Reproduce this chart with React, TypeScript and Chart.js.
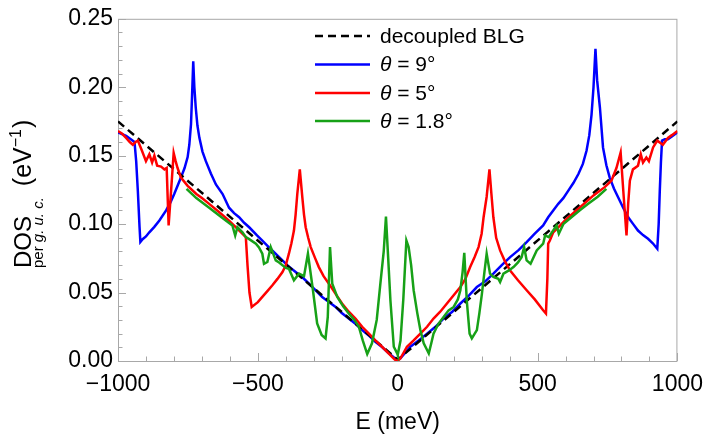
import React, { useEffect, useRef } from "react";
import { Chart, registerables } from "chart.js";

Chart.register(...registerables);

// ---------- data ----------
const energyBLG = [-1000, 0, 1000];
const dosBLG = [0.175, 0.001, 0.175];

const energy9 = [
  -1000, -971, -941, -935, -929, -923, -920, -912, -900, -888, -870, -852, -828, -812, -799, -787, -775, -762,
  -751, -745, -739, -735, -731, -727, -722, -716, -709, -698, -686, -668, -650, -626, -603, -585, -567, -549,
  -531, -503, -484, -455, -424, -395, -365, -340, -317, -295, -270, -245, -222, -200, -175, -150, -127, -100,
  -80, -55, -32, -10, 0, 10, 45, 75, 105, 135, 164, 195, 224, 255, 283, 312, 342, 372, 402, 432, 461, 490, 520,
  538, 556, 574, 592, 610, 628, 646, 662, 675, 685, 693, 700, 707, 713, 723, 734, 746, 758, 773, 788, 806, 824,
  842, 859, 877, 895, 912, 928, 933, 937, 941, 945, 955, 966, 980, 1000,
];
const dos9 = [
  0.167, 0.1645, 0.16, 0.146, 0.124, 0.098, 0.087, 0.089, 0.091, 0.094, 0.098, 0.1026, 0.11, 0.116, 0.122, 0.128,
  0.134, 0.141, 0.149, 0.158, 0.173, 0.195, 0.219, 0.2, 0.185, 0.172, 0.163, 0.153, 0.146, 0.137, 0.129, 0.122,
  0.112, 0.108, 0.105, 0.101, 0.0977, 0.0917, 0.088, 0.082, 0.0759, 0.07, 0.065, 0.061, 0.0565, 0.052, 0.0468,
  0.043, 0.0395, 0.035, 0.031, 0.027, 0.0226, 0.018, 0.014, 0.01, 0.0056, 0.002, 0.001, 0.002, 0.0104, 0.015,
  0.02, 0.025, 0.031, 0.036, 0.042, 0.048, 0.054, 0.058, 0.0638, 0.07, 0.0759, 0.081, 0.0868, 0.093, 0.099,
  0.105, 0.11, 0.1148, 0.119, 0.1245, 0.13, 0.1366, 0.144, 0.1536, 0.165, 0.18, 0.2, 0.228, 0.205, 0.185, 0.156,
  0.143, 0.134, 0.126, 0.1196, 0.112, 0.105, 0.1, 0.0953, 0.092, 0.0893, 0.086, 0.082, 0.1, 0.1245, 0.145, 0.161,
  0.162, 0.162, 0.164, 0.167,
];

const energy5 = [
  -1000, -985, -971, -958, -947, -937, -929, -915, -900, -888, -878, -870, -860, -846, -834, -826, -819, -810,
  -801, -794, -787, -775, -751, -720, -700, -674, -640, -603, -570, -543, -537, -530, -522, -500, -484, -466,
  -448, -430, -412, -400, -389, -380, -371, -365, -359, -350, -341, -335, -329, -320, -311, -295, -282, -265,
  -246, -222, -199, -175, -151, -127, -103, -80, -56, -30, -10, 0, 10, 33, 57, 81, 105, 128, 152, 176, 200, 224,
  242, 259, 275, 289, 300, 307, 318, 328, 335, 342, 352, 366, 383, 402, 430, 461, 490, 520, 530, 535, 538, 544,
  556, 574, 600, 650, 700, 740, 764, 782, 797, 808, 818, 824, 830, 841, 859, 869, 877, 889, 898, 913, 928, 948,
  966, 980, 1000,
];
const dos5 = [
  0.168, 0.166, 0.163, 0.16, 0.158, 0.16, 0.161, 0.154, 0.146, 0.151, 0.145, 0.15, 0.1427, 0.142, 0.14, 0.141,
  0.099, 0.125, 0.152, 0.146, 0.141, 0.134, 0.128, 0.122, 0.119, 0.1148, 0.109, 0.1026, 0.096, 0.0905, 0.07,
  0.05, 0.0395, 0.043, 0.0468, 0.051, 0.0553, 0.06, 0.065, 0.07, 0.0784, 0.086, 0.0953, 0.107, 0.122, 0.14,
  0.1196, 0.107, 0.0977, 0.09, 0.0832, 0.075, 0.0686, 0.062, 0.0565, 0.049, 0.042, 0.036, 0.031, 0.025, 0.02,
  0.015, 0.0104, 0.005, 0.001, 0.0, 0.002, 0.0104, 0.015, 0.02, 0.025, 0.031, 0.036, 0.042, 0.048, 0.054, 0.06,
  0.0686, 0.076, 0.0832, 0.093, 0.105, 0.12, 0.14, 0.122, 0.105, 0.09, 0.0808, 0.073, 0.066, 0.059, 0.0517,
  0.045, 0.0371, 0.0347, 0.06, 0.0857, 0.088, 0.094, 0.0977, 0.103, 0.112, 0.121, 0.127, 0.1317, 0.141, 0.1523,
  0.12, 0.0917, 0.115, 0.1317, 0.14, 0.1427, 0.151, 0.145, 0.1487, 0.146, 0.156, 0.161, 0.158, 0.163, 0.165,
  0.168,
];

const energy18 = [
  -755, -720, -674, -630, -591, -581, -573, -555, -543, -531, -507, -496, -484, -478, -466, -454, -436, -424,
  -400, -389, -371, -353, -335, -321, -303, -288, -272, -258, -250, -242, -234, -216, -195, -175, -155, -139,
  -125, -109, -92, -75, -62, -50, -42, -34, -26, -14, -2, 0, 10, 20, 31, 39, 48, 57, 70, 81, 93, 105, 111, 120,
  128, 145, 164, 182, 200, 215, 224, 232, 238, 247, 257, 265, 283, 292, 301, 310, 318, 330, 342, 360, 366, 378,
  396, 414, 430, 443, 452, 461, 475, 497, 520, 527, 540, 556, 568, 576, 592, 621, 650, 681, 715, 746,
];
const dos18 = [
  0.1257, 0.119, 0.112, 0.105, 0.099, 0.0917, 0.0977, 0.094, 0.0905, 0.089, 0.0857, 0.083, 0.0784, 0.071,
  0.0723, 0.0832, 0.0735, 0.072, 0.068, 0.0674, 0.059, 0.0638, 0.062, 0.0784, 0.0517, 0.0274, 0.019, 0.0165,
  0.0322, 0.0832, 0.0565, 0.0468, 0.04, 0.0347, 0.03, 0.025, 0.015, 0.0051, 0.0129, 0.03, 0.0565, 0.08, 0.1055,
  0.075, 0.044, 0.0104, 0.0056, 0.0044, 0.015, 0.045, 0.088, 0.0832, 0.07, 0.0517, 0.035, 0.0226, 0.013, 0.008,
  0.0056, 0.013, 0.02, 0.027, 0.0322, 0.037, 0.0395, 0.045, 0.0517, 0.065, 0.079, 0.044, 0.02, 0.0165, 0.0226,
  0.035, 0.049, 0.065, 0.0784, 0.0638, 0.0614, 0.06, 0.0577, 0.0638, 0.066, 0.0686, 0.072, 0.0759, 0.0832,
  0.0735, 0.071, 0.0808, 0.0857, 0.0917, 0.0905, 0.0953, 0.099, 0.093, 0.1, 0.105, 0.11, 0.1148, 0.12, 0.1257,
];

const seriesLabels = ["decoupled BLG", "θ = 9°", "θ = 5°", "θ = 1.8°"];
const xTickValues = [-1000, -500, 0, 500, 1000];
const yTickValues = [0, 0.05, 0.1, 0.15, 0.2, 0.25];
const xMinorStep = 100;
const yMinorStep = 0.01;
const xTitle = "E (meV)";
const yTitleMain = "DOS";
const yTitleSubPlain = "per ";
const yTitleSubItalic = "g. u. c.";
const yTitleUnit = "(eV";
const yTitleExp = "−1";

const FONT = "'Liberation Sans', Arial, Helvetica, sans-serif";

const toPoints = (xs: number[], ys: number[]) => xs.map((x, i) => ({ x, y: ys[i] }));
const fmtX = (v: number) => (v < 0 ? "−" + Math.abs(v) : String(v));

const framePlugin = {
  id: "frameTicks",
  beforeDatasetsDraw(chart: any) {
    const { ctx, chartArea: a, scales } = chart;
    const xs = scales.x;
    const ys = scales.y;
    ctx.save();
    ctx.strokeStyle = "#a8a8a8";
    ctx.lineWidth = 1;
    ctx.strokeRect(a.left + 0.5, a.top + 0.5, a.right - a.left - 1, a.bottom - a.top);
    ctx.beginPath();
    const nx = Math.round((xs.max - xs.min) / xMinorStep);
    for (let i = 0; i <= nx; i++) {
      const v = xs.min + i * xMinorStep;
      const px = Math.round(xs.getPixelForValue(v)) + 0.5;
      const major = xTickValues.some((t) => Math.abs(t - v) < 1e-6);
      const len = major ? 8 : 4.5;
      ctx.moveTo(px, a.bottom);
      ctx.lineTo(px, a.bottom - len);
    }
    const ny = Math.round((ys.max - ys.min) / yMinorStep);
    for (let i = 0; i <= ny; i++) {
      const v = ys.min + i * yMinorStep;
      const py = Math.round(ys.getPixelForValue(v)) + 0.5;
      const major = yTickValues.some((t) => Math.abs(t - v) < 1e-6);
      const len = major ? 8 : 4.5;
      ctx.moveTo(a.left, py);
      ctx.lineTo(a.left + len, py);
    }
    ctx.stroke();
    ctx.restore();
  },
  afterDraw(chart: any) {
    const { ctx } = chart;
    // y-axis title (rotated rich text)
    ctx.save();
    ctx.translate(31, 268);
    ctx.rotate(-Math.PI / 2);
    ctx.fillStyle = "#000";
    ctx.textBaseline = "alphabetic";
    ctx.textAlign = "left";
    ctx.font = `24px ${FONT}`;
    ctx.fillText(yTitleMain, 0, 0);
    // subscript
    ctx.font = `15px ${FONT}`;
    ctx.fillText(yTitleSubPlain, 0, 12);
    const wp = ctx.measureText(yTitleSubPlain).width;
    ctx.font = `italic 15px ${FONT}`;
    ctx.fillText(yTitleSubItalic, wp, 12);
    const ws = wp + ctx.measureText(yTitleSubItalic).width;
    let x0 = ws + 11;
    ctx.font = `25px ${FONT}`;
    ctx.fillText(yTitleUnit, x0, 0);
    x0 += ctx.measureText(yTitleUnit).width;
    ctx.font = `16px ${FONT}`;
    ctx.fillText(yTitleExp, x0, -10);
    x0 += ctx.measureText(yTitleExp).width + 1;
    ctx.font = `25px ${FONT}`;
    ctx.fillText(")", x0, 0);
    ctx.restore();

    // legend
    ctx.save();
    const rows = [36, 64.5, 93, 121];
    chart.data.datasets.forEach((ds: any) => {
      const idx = seriesLabels.indexOf(ds.label);
      const y = rows[idx];
      ctx.strokeStyle = ds.borderColor;
      ctx.lineWidth = 2.5;
      ctx.setLineDash(ds.borderDash || []);
      ctx.beginPath();
      ctx.moveTo(315, y);
      ctx.lineTo(370, y);
      ctx.stroke();
      ctx.setLineDash([]);
      ctx.fillStyle = "#000";
      ctx.textBaseline = "middle";
      ctx.textAlign = "left";
      const label: string = ds.label;
      let tx = 380;
      if (label.startsWith("θ")) {
        ctx.font = `italic 21px ${FONT}`;
        ctx.fillText("θ", tx, y + 1);
        tx += ctx.measureText("θ").width;
        ctx.font = `21px ${FONT}`;
        ctx.fillText(label.slice(1), tx, y + 1);
      } else {
        ctx.font = `21px ${FONT}`;
        ctx.fillText(label, tx, y + 1);
      }
    });
    ctx.restore();
  },
};

export default function App() {
  const ref = useRef<HTMLCanvasElement | null>(null);
  useEffect(() => {
    if (!ref.current) return;
    const common = { showLine: true, pointRadius: 0, borderWidth: 2.5, fill: false, tension: 0 };
    const chart = new Chart(ref.current, {
      type: "scatter",
      data: {
        datasets: [
          { ...common, label: seriesLabels[3], data: toPoints(energy18, dos18), borderColor: "#17a117" },
          { ...common, label: seriesLabels[2], data: toPoints(energy5, dos5), borderColor: "#ff0000" },
          { ...common, label: seriesLabels[0], data: toPoints(energyBLG, dosBLG), borderColor: "#000000", borderDash: [8, 5] },
          { ...common, label: seriesLabels[1], data: toPoints(energy9, dos9), borderColor: "#0000ff" },
        ],
      },
      options: {
        animation: false,
        responsive: false,
        maintainAspectRatio: false,
        devicePixelRatio: 1,
        layout: { padding: { left: 0, right: 34, top: 17, bottom: 0 } },
        plugins: { legend: { display: false }, tooltip: { enabled: false } },
        scales: {
          x: {
            type: "linear",
            min: -1000,
            max: 1000,
            grid: { display: false, drawTicks: false },
            border: { display: false },
            afterBuildTicks: (s: any) => {
              s.ticks = xTickValues.map((v) => ({ value: v }));
            },
            afterFit: (s: any) => {
              s.height = 81;
            },
            ticks: {
              autoSkip: false,
              maxRotation: 0,
              padding: 10,
              color: "#000",
              font: { family: FONT, size: 23 },
              callback: (v: any) => fmtX(Number(v)),
            },
            title: {
              display: true,
              text: xTitle,
              color: "#000",
              font: { family: FONT, size: 23 },
              padding: { top: 0, bottom: 6 },
            },
          },
          y: {
            type: "linear",
            min: 0,
            max: 0.25,
            grid: { display: false, drawTicks: false },
            border: { display: false },
            afterBuildTicks: (s: any) => {
              s.ticks = yTickValues.map((v) => ({ value: v }));
            },
            afterFit: (s: any) => {
              s.width = 118;
            },
            ticks: {
              autoSkip: false,
              padding: 5,
              color: "#000",
              font: { family: FONT, size: 23 },
              callback: (v: any) => Number(v).toFixed(2),
            },
          },
        },
      },
      plugins: [framePlugin],
    });
    return () => chart.destroy();
  }, []);
  return (
    <div style={{ position: "fixed", left: 0, top: 0, width: 713, height: 442, background: "#fff" }}>
      <canvas ref={ref} width={713} height={442} style={{ width: 713, height: 442, display: "block" }} />
    </div>
  );
}
